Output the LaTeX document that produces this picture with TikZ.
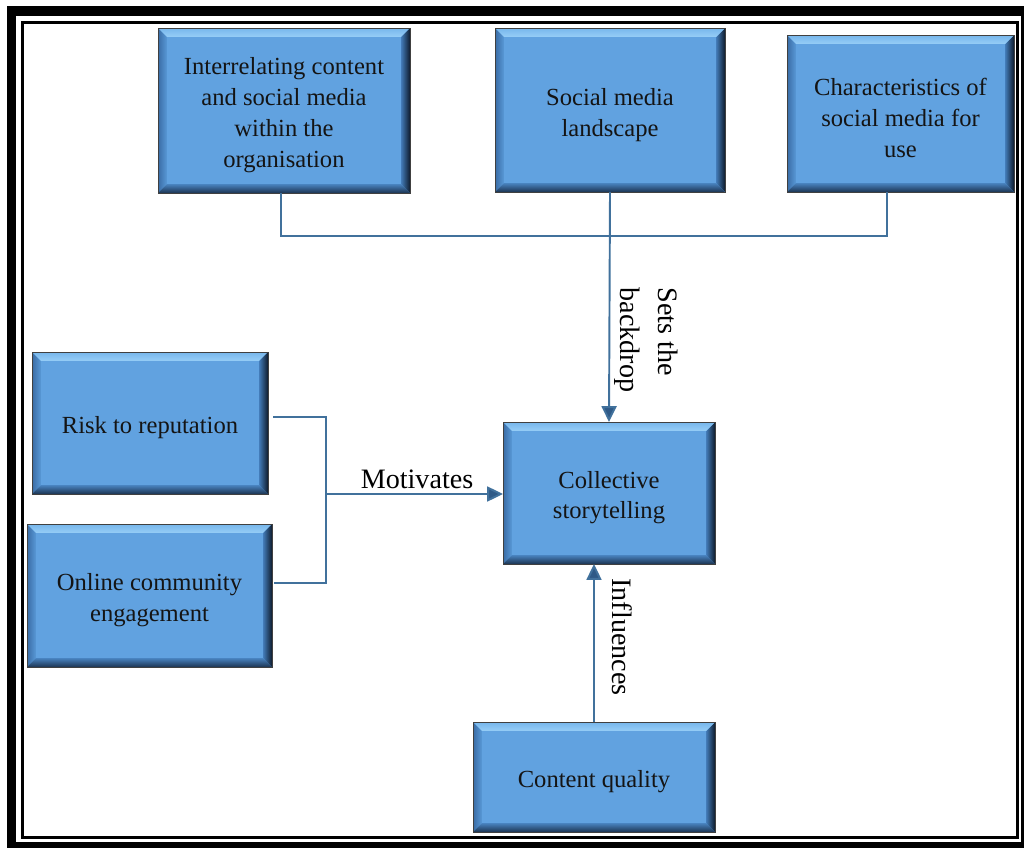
\documentclass[tikz,border=0pt]{standalone}
\usepackage{fontspec}
\setmainfont{Liberation Serif}
\usetikzlibrary{arrows.meta}

\definecolor{boxfill}{RGB}{97,162,224}
\definecolor{bevtopout}{RGB}{118,182,236}
\definecolor{bevtopin}{RGB}{150,205,246}
\definecolor{bevleftout}{RGB}{58,108,165}
\definecolor{bevleftin}{RGB}{88,152,214}
\definecolor{bevbotout}{RGB}{28,52,82}
\definecolor{bevbotin}{RGB}{72,130,190}
\definecolor{bevrightout}{RGB}{14,28,46}
\definecolor{bevrightin}{RGB}{66,122,182}
\definecolor{linkblue}{RGB}{65,113,156}
\definecolor{tipblue}{RGB}{47,90,135}

\newcommand{\bw}{5pt}
% taller first line, so the text sits a little low in its box
\newcommand{\tstrut}{\rule{0pt}{15pt}}

% bevelled faces of a box, drawn inside its own outline
\newcommand{\bevelfaces}{%
  \path (path picture bounding box.north west) coordinate (pnw)
        (path picture bounding box.north east) coordinate (pne)
        (path picture bounding box.south west) coordinate (psw)
        (path picture bounding box.south east) coordinate (pse);
  \shade[left color=bevleftout, right color=bevleftin]
    (pnw) -- ([shift={(\bw,-\bw)}]pnw) -- ([shift={(\bw,\bw)}]psw) -- (psw) -- cycle;
  \shade[left color=bevrightin, right color=bevrightout]
    (pne) -- ([shift={(-\bw,-\bw)}]pne) -- ([shift={(-\bw,\bw)}]pse) -- (pse) -- cycle;
  \shade[top color=bevbotin, bottom color=bevbotout]
    (psw) -- ([shift={(\bw,\bw)}]psw) -- ([shift={(-\bw,\bw)}]pse) -- (pse) -- cycle;
  \shade[top color=bevtopout, bottom color=bevtopin]
    (pnw) -- (pne) -- ([shift={(-\bw,-\bw)}]pne) -- ([shift={(\bw,-\bw)}]pnw) -- cycle;
}

\tikzset{
  bevelbox/.style={
    inner sep=0pt, outer sep=0pt,
    fill=boxfill, draw=black!75, line width=0.5pt,
    align=center, text=black!92,
    font=\fontsize{14}{17.6}\selectfont,
    path picture={\bevelfaces}
  },
  link/.style={draw=linkblue, line width=1.1pt},
  linkarrow/.style={link, -{Triangle[length=9pt,width=8.5pt,fill=tipblue]}},
  lab/.style={inner sep=0pt, text=black, font=\fontsize{16}{21.5}\selectfont},
}

\begin{document}
\begin{tikzpicture}[x=0.02cm, y=-0.02cm]
  \useasboundingbox (0,0) rectangle (1024,848);

  % double frame
  \draw[line width=5.3pt] (11.5,11) rectangle (1026,847);
  \draw[line width=1.7pt] (22.5,22.5) rectangle (1017,837.5);

  % boxes
  \node[bevelbox, minimum width=5.04cm, minimum height=3.3cm] (A) at (284,110.5)
    {\tstrut Interrelating content\\and social media\\within the\\organisation};
  \node[bevelbox, minimum width=4.6cm, minimum height=3.28cm] (B) at (610,110)
    {\tstrut Social media\\landscape};
  \node[bevelbox, minimum width=4.54cm, minimum height=3.14cm] (C) at (900.5,113.5)
    {\tstrut Characteristics of\\social media for\\use};
  \node[bevelbox, minimum width=4.72cm, minimum height=2.84cm] (D) at (150,423)
    {\tstrut Risk to reputation};
  \node[bevelbox, minimum width=4.9cm, minimum height=2.86cm] (E) at (149.5,595.5)
    {\tstrut Online community\\engagement};
  \node[bevelbox, minimum width=4.24cm, minimum height=2.84cm] (F) at (609,493)
    {\tstrut Collective\\storytelling};
  \node[bevelbox, minimum width=4.84cm, minimum height=2.2cm] (G) at (594,777)
    {\tstrut Content quality};

  % junction points
  \coordinate (aj) at (281,236);
  \coordinate (cj) at (887,236);
  \coordinate (bt) at (326,417);
  \coordinate (bb) at (326,583);
  \coordinate (bm) at (326,494);

  % connectors
  \draw[link] (A.south -| aj) -- (aj) -- (cj) -- (C.south -| cj);
  \draw[linkarrow] (B.south) -- (F.north);
  \draw[link] ([xshift=3pt]D.east |- bt) -- (bt) -- (bb) -- ([xshift=1pt]E.east |- bb);
  \draw[linkarrow] (bm) -- (F.west |- bm);
  \draw[linkarrow] (G.north) -- (G.north |- F.south);

  % labels
  \node[lab, rotate=-90, align=left] (backdrop) at (646,340) {Sets the\\backdrop};
  \node[lab] (motiv) at (417,479) {Motivates};
  \node[lab, rotate=-90] (infl) at (622,637) {Influences};
\end{tikzpicture}
\end{document}
